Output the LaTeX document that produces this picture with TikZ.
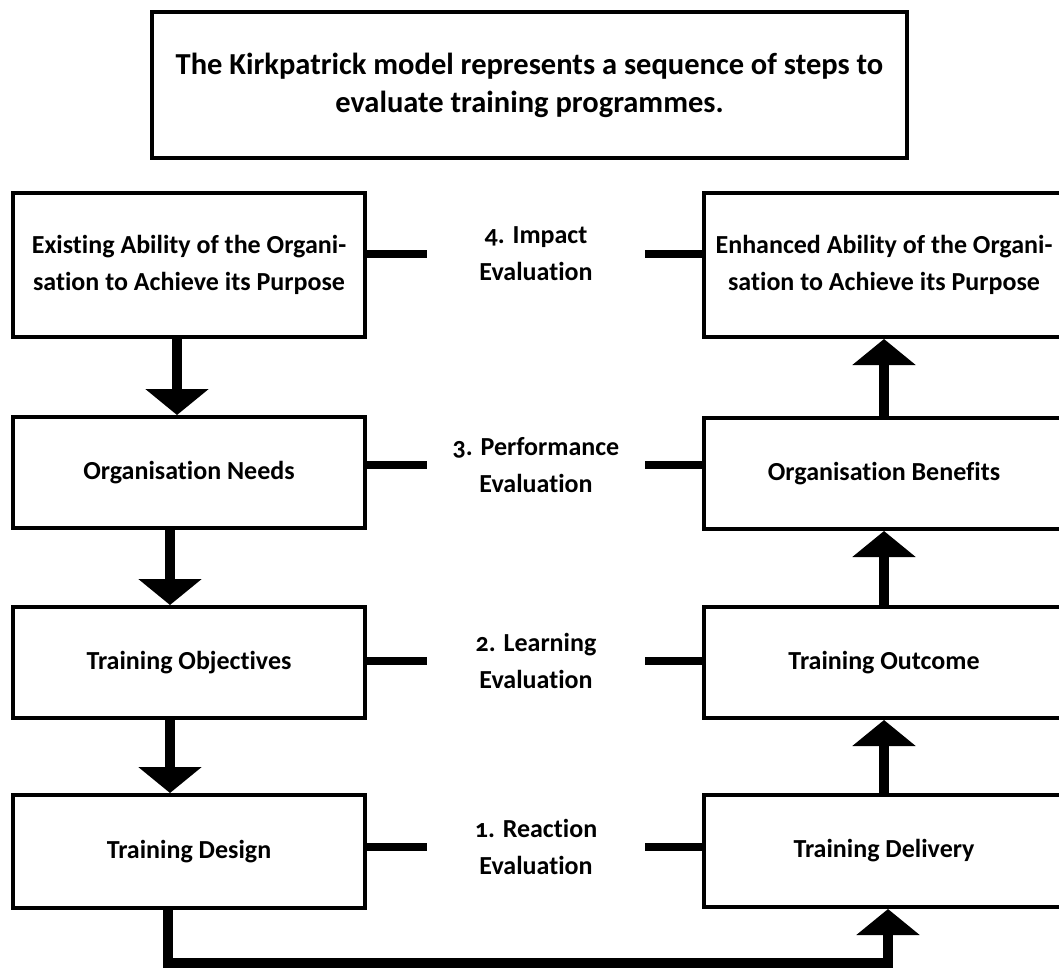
\documentclass[tikz,border=0pt]{standalone}
\usepackage{fontspec}
\setmainfont{Carlito}[Numbers=OldStyle, Ligatures=NoCommon]
\usetikzlibrary{arrows.meta, positioning, calc}

\begin{document}
\begin{tikzpicture}[x=1pt, y=-1pt,
  stage/.style={draw, line width=4pt, align=center, inner sep=0pt, font=\fontsize{26}{37}\selectfont\bfseries},
  leftstage/.style={stage, minimum width=352pt},
  rightstage/.style={stage, minimum width=360pt},
  level/.style={align=center, inner sep=0pt, minimum width=218pt, font=\fontsize{26}{37}\selectfont\bfseries},
  link/.style={line width=8.5pt},
  flow/.style={line width=10pt, -{Triangle[width=62pt, length=26pt]}}]
  \useasboundingbox (0,0) rectangle (1059,970);

  % Summary statement
  \node[stage, minimum width=755pt, minimum height=146pt, font=\fontsize{30.5}{38}\selectfont\bfseries] (summary) at (529.5,85) {The Kirkpatrick model represents a sequence of steps to\\evaluate training programmes.};

  % Left column (before training)
  \node[leftstage, minimum height=144pt] (exist) at (189,265) {Existing Ability of the Organi-\\sation to Achieve its Purpose};
  \node[leftstage, minimum height=111pt] (needs) at (189,472.5) {Organisation Needs};
  \node[leftstage, minimum height=111pt] (objectives) at (189,662.5) {Training Objectives};
  \node[leftstage, minimum height=113pt] (design) at (189,851.5) {Training Design};

  % Right column (after training)
  \node[rightstage, minimum height=144pt] (enhanced) at (884,265) {Enhanced Ability of the Organi-\\sation to Achieve its Purpose};
  \node[rightstage, minimum height=111pt] (benefits) at (884,473.5) {Organisation Benefits};
  \node[rightstage, minimum height=111pt] (outcome) at (884,662.5) {Training Outcome};
  \node[rightstage, minimum height=112pt] (delivery) at (884,851) {Training Delivery};

  % Evaluation levels
  \node[level] (impact) at (536,254) {4. Impact\\Evaluation};
  \node[level] (performance) at (536,465) {3. Performance\\Evaluation};
  \node[level] (learning) at (536,661) {2. Learning\\Evaluation};
  \node[level] (reaction) at (536,847) {1. Reaction\\Evaluation};

  % Links from the levels to both columns
  \draw[link] (impact.west -| exist.east) -- (impact.west);
  \draw[link] (impact.east) -- (impact.east -| enhanced.west);
  \draw[link] (performance.west -| needs.east) -- (performance.west);
  \draw[link] (performance.east) -- (performance.east -| benefits.west);
  \draw[link] (learning.west -| objectives.east) -- (learning.west);
  \draw[link] (learning.east) -- (learning.east -| outcome.west);
  \draw[link] (reaction.west -| design.east) -- (reaction.west);
  \draw[link] (reaction.east) -- (reaction.east -| delivery.west);

  % Flow down the left, up the right
  \draw[flow] ([xshift=-12pt]exist.south) -- ([xshift=-12pt]needs.north);
  \draw[flow] ([xshift=-19pt]needs.south) -- ([xshift=-19pt]objectives.north);
  \draw[flow] ([xshift=-19pt]objectives.south) -- ([xshift=-19pt]design.north);
  \coordinate (floor) at (529.5,963);
  \draw[flow] ([xshift=-21pt]design.south) |- (floor) -| ([xshift=4pt]delivery.south);
  \draw[flow] (delivery.north) -- (outcome.south);
  \draw[flow] (outcome.north) -- (benefits.south);
  \draw[flow] (benefits.north) -- (enhanced.south);
\end{tikzpicture}
\end{document}
